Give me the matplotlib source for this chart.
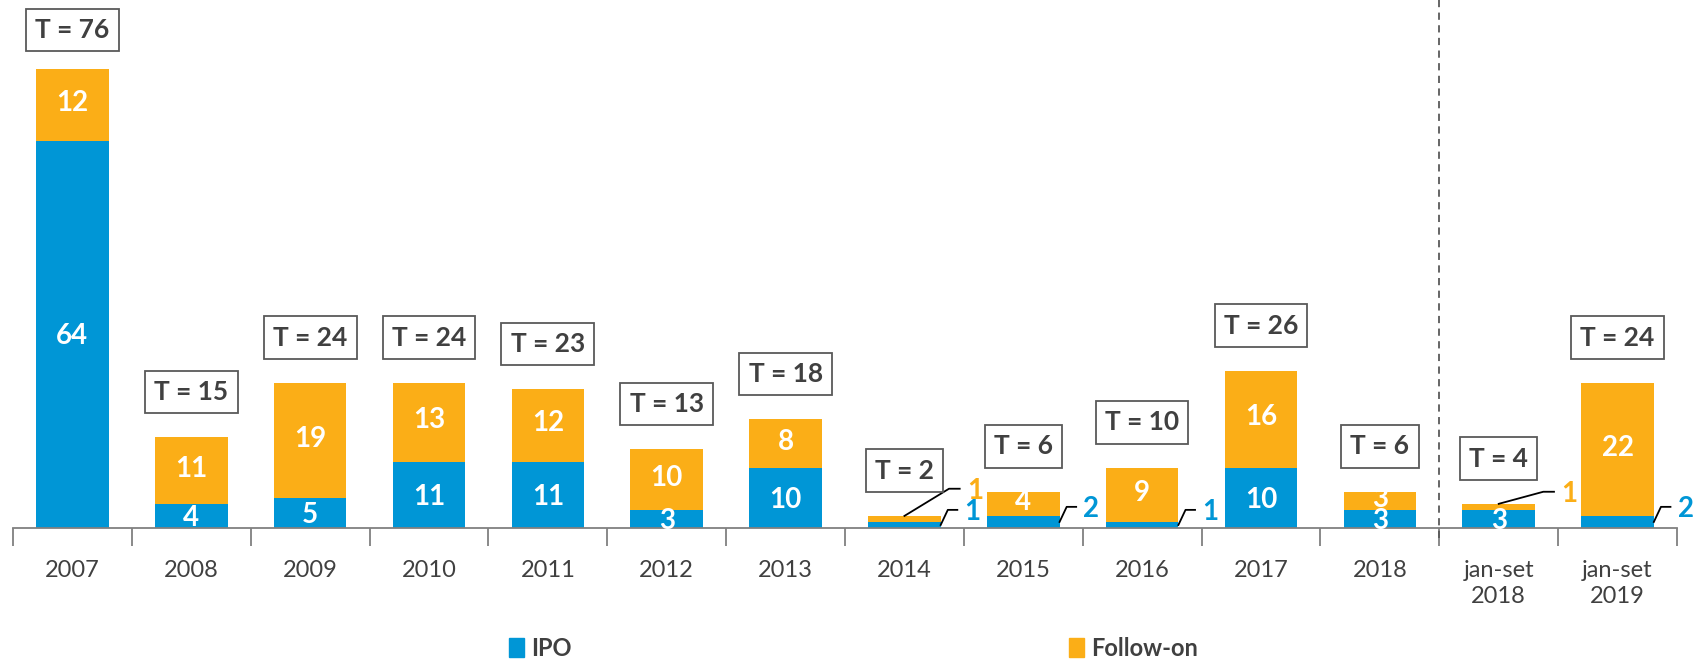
import matplotlib.pyplot as plt
import matplotlib.patches as mpatches
import numpy as np

# Datos: ofertas por año (IPO y follow-on)
categorias = ['2007', '2008', '2009', '2010', '2011', '2012', '2013', '2014',
              '2015', '2016', '2017', '2018', 'jan-set\n2018', 'jan-set\n2019']
ipo = [64, 4, 5, 11, 11, 3, 10, 1, 2, 1, 10, 3, 3, 2]
follow_on = [12, 11, 19, 13, 12, 10, 8, 1, 4, 9, 16, 3, 1, 22]

AZUL = '#0096D6'
NARANJA = '#FBAE17'
GRIS = '#404040'

plt.rcParams['font.family'] = ['Lato', 'DejaVu Sans']

fig = plt.figure(figsize=(17.05, 6.6), dpi=100)
ax = fig.add_axes([13 / 1705, 0.2, 1664 / 1705, 0.8])

x = np.arange(len(categorias))
ipo = np.array(ipo)
follow_on = np.array(follow_on)
total = ipo + follow_on
w = 0.61
ymax = 87.4

ax.bar(x, ipo, w, color=AZUL, label='IPO')
ax.bar(x, follow_on, w, bottom=ipo, color=NARANJA, label='Follow-on')

for i in x:
    derecha = i + w / 2
    # IPO
    if ipo[i] > 2:
        ax.text(i, ipo[i] / 2 - 0.3, str(ipo[i]), ha='center', va='center',
                color='white', fontsize=20, fontweight='bold')
        y_ipo = None
    else:
        y_ipo = ipo[i] / 2 + 2.5
        ax.plot([derecha, derecha + 0.06, derecha + 0.14],
                [ipo[i] / 2, y_ipo, y_ipo], color='black', lw=1.3)
        ax.text(derecha + 0.2, y_ipo - 0.4, str(ipo[i]), ha='left', va='center',
                color=AZUL, fontsize=20, fontweight='bold')
    # Follow-on
    if follow_on[i] > 1:
        ax.text(i, ipo[i] + follow_on[i] / 2 + 0.3, str(follow_on[i]), ha='center',
                va='center', color='white', fontsize=20, fontweight='bold')
    else:
        y_f = total[i] + 2 if y_ipo is None else y_ipo + 3.5
        ax.plot([i, derecha + 0.07, derecha + 0.16],
                [total[i], y_f, y_f], color='black', lw=1.3)
        ax.text(derecha + 0.22, y_f - 0.4, str(follow_on[i]), ha='left', va='center',
                color=NARANJA, fontsize=20, fontweight='bold')
    # Total
    ax.text(i, min(total[i] + 7.5, ymax - 5), f'T = {total[i]}', ha='center',
            va='center', color=GRIS, fontsize=19, fontweight='bold',
            bbox=dict(boxstyle='square,pad=0.35', fc='white', ec='#595959', lw=1.3))

# Línea de separación
ax.plot([11.5, 11.5], [-1.6, ymax], color='#595959', lw=1.3, ls=(0, (4, 3)),
        clip_on=False)

ax.set_xlim(-0.5, len(categorias) - 0.5)
ax.set_ylim(0, ymax)
ax.set_xticks(x)
ax.set_xticklabels(categorias, fontsize=17, color=GRIS, linespacing=1.3)
ax.set_xticks(np.arange(-0.5, len(categorias)), minor=True)
ax.tick_params(axis='x', which='major', length=0, pad=23)
ax.tick_params(axis='x', which='minor', length=13, width=1.3, color='#808080',
               direction='out')
ax.set_yticks([])
for s in ['top', 'right', 'left']:
    ax.spines[s].set_visible(False)
ax.spines['bottom'].set_color('#808080')
ax.spines['bottom'].set_linewidth(1.3)

# Leyenda
for etiqueta, color, xpos in [('IPO', AZUL, 509 / 1705), ('Follow-on', NARANJA, 1069 / 1705)]:
    leg = fig.legend(handles=[mpatches.Patch(color=color, label=etiqueta)],
                     loc='center left', bbox_to_anchor=(xpos, 1 - 648 / 660),
                     frameon=False, borderpad=0, borderaxespad=0,
                     handlelength=0.65, handleheight=0.9, handletextpad=0.3,
                     prop={'size': 17, 'weight': 'bold'})
    for t in leg.get_texts():
        t.set_color(GRIS)

fig.savefig('out.png', dpi=100)
